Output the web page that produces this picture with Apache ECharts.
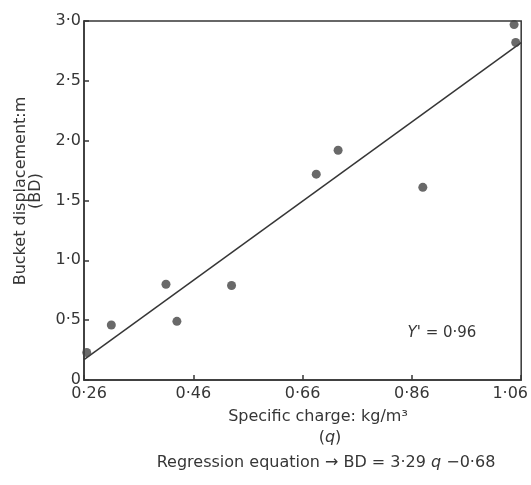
<!DOCTYPE html>
<html>
<head>
<meta charset="utf-8">
<script src="https://cdn.jsdelivr.net/npm/echarts@6/dist/echarts.min.js"></script>
<style>
html,body{margin:0;padding:0;background:#fff;}
#c{width:531px;height:485px;}
</style>
</head>
<body>
<div id="c"></div>
<script>
// Specific charge q (kg/m^3) vs bucket displacement BD (m)
const chargeQ = [0.265, 0.31, 0.41, 0.43, 0.53, 0.685, 0.725, 0.88, 1.047, 1.05];
const bucketBD = [0.23, 0.46, 0.80, 0.49, 0.79, 1.72, 1.92, 1.61, 2.97, 2.82];
// regression line end points
const regQ = [0.26, 1.06];
const regBD = [0.17, 2.82];
const xTicks = [0.26, 0.46, 0.66, 0.86, 1.06];
const yTicks = [0, 0.5, 1.0, 1.5, 2.0, 2.5, 3.0];

const dot = s => s.replace('.', '\u00b7');
const fmtX = v => dot(v.toFixed(2));
const fmtY = v => (Math.abs(v) < 1e-9 ? '0' : dot(v.toFixed(1)));

const font = 'DejaVu Sans, Liberation Sans, sans-serif';
const ink = '#363636';

const chart = echarts.init(document.getElementById('c'));
chart.setOption({
  animation: false,
  backgroundColor: '#fff',
  grid: { left: 84, right: 6, top: 21, bottom: 105, show: true, borderColor: ink, borderWidth: 1.5, backgroundColor: 'transparent' },
  xAxis: {
    type: 'value', min: xTicks[0], max: xTicks[xTicks.length - 1],
    axisLine: { show: true, lineStyle: { color: ink, width: 1.5 } },
    axisTick: { show: true, inside: true, length: 5, customValues: xTicks, lineStyle: { color: ink, width: 1.5 } },
    splitLine: { show: false },
    axisLabel: {
      customValues: xTicks, color: ink, fontFamily: font, fontSize: 16, margin: 6,
      formatter: function (v) {
        const s = fmtX(v);
        if (Math.abs(v - xTicks[0]) < 1e-6) return '{a|' + s + '}';
        if (Math.abs(v - xTicks[xTicks.length - 1]) < 1e-6) return '{b|' + s + '}';
        return s;
      },
      rich: {
        a: { padding: [0, 0, 0, 10], fontSize: 16, fontFamily: font, color: ink },
        b: { padding: [0, 22, 0, 0], fontSize: 16, fontFamily: font, color: ink }
      }
    }
  },
  yAxis: {
    type: 'value', min: yTicks[0], max: yTicks[yTicks.length - 1], interval: 0.5,
    axisLine: { show: true, lineStyle: { color: ink, width: 1.5 } },
    axisTick: { show: true, inside: true, length: 5, lineStyle: { color: ink, width: 1.5 } },
    splitLine: { show: false },
    axisLabel: { color: ink, fontFamily: font, fontSize: 16, margin: 3, formatter: fmtY }
  },
  series: [
    {
      type: 'line', data: regQ.map((q, i) => [q, regBD[i]]), symbol: 'none',
      lineStyle: { color: ink, width: 1.5 }, silent: true, z: 2
    },
    {
      type: 'scatter', data: chargeQ.map((q, i) => [q, bucketBD[i]]),
      symbol: 'circle', symbolSize: 9, itemStyle: { color: '#444' }, z: 3
    }
  ],
  graphic: [
    { type: 'text', x: 28, y: 191, rotation: Math.PI / 2,
      style: { text: 'Bucket displacement:m\n(BD)', fill: ink, font: '16px ' + font, align: 'center', verticalAlign: 'middle', lineHeight: 15 } },
    { type: 'text', x: 318, y: 417,
      style: { text: 'Specific charge: kg/m\u00b3', fill: ink, font: '16px ' + font, align: 'center', verticalAlign: 'middle' } },
    { type: 'text', x: 330, y: 438,
      style: { text: '({i|q})', fill: ink, font: '16px ' + font, align: 'center', verticalAlign: 'middle',
        rich: { i: { fontStyle: 'italic', fontSize: 16, fontFamily: font, fill: ink } } } },
    { type: 'text', x: 326, y: 463,
      style: { text: 'Regression equation \u2192 BD = 3\u00b729 {i|q} \u22120\u00b768', fill: ink, font: '16px ' + font, align: 'center', verticalAlign: 'middle',
        rich: { i: { fontStyle: 'italic', fontSize: 16, fontFamily: font, fill: ink } } } },
    { type: 'text', x: 442, y: 333,
      style: { text: "{i|Y'} = 0\u00b796", fill: ink, font: '15px ' + font, align: 'center', verticalAlign: 'middle',
        rich: { i: { fontStyle: 'italic', fontSize: 15, fontFamily: font, fill: ink } } } }
  ]
});
</script>
</body>
</html>
